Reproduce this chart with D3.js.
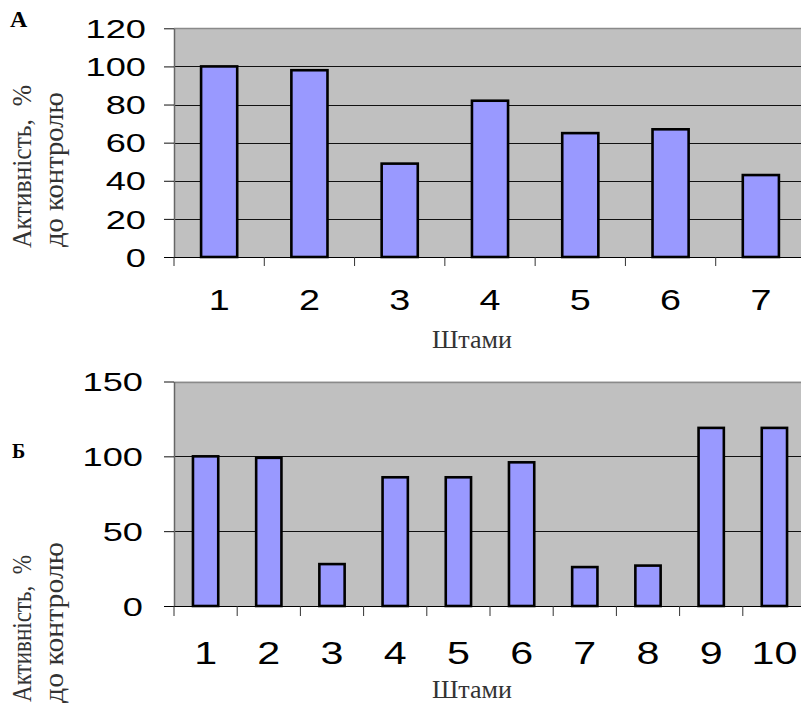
<!DOCTYPE html>
<html>
<head>
<meta charset="utf-8">
<script src="https://cdn.jsdelivr.net/npm/d3@7"></script>
<style>
  html, body { margin: 0; padding: 0; background: #fff; }
  svg { display: block; }
</style>
</head>
<body>
<svg id="chart" width="801" height="705"></svg>
<script>
// ---- Data ----
const categoriesA = ["1", "2", "3", "4", "5", "6", "7"];
const valuesA = [100, 98, 49, 82, 65, 67, 43];
const yTicksA = [0, 20, 40, 60, 80, 100, 120];

const categoriesB = ["1", "2", "3", "4", "5", "6", "7", "8", "9", "10"];
const valuesB = [100, 99, 28, 86, 86, 96, 26, 27, 119, 119];
const yTicksB = [0, 50, 100, 150];

const panelLabels = ["А", "Б"];
const yTitleLine1 = "Активність,  %";
const yTitleLine2 = "до контролю";
const xTitle = "Штами";

// ---- Drawing ----
const svg = d3.select("#chart");
const SANS = "Liberation Sans, Arial, sans-serif";
const SERIF = "Liberation Serif, Times New Roman, serif";

function panel(cfg) {
  const g = svg.append("g");
  const x = d3.scaleBand().domain(cfg.cats).range([cfg.left, cfg.right])
    .paddingInner(0.6).paddingOuter(0.3);
  const y = d3.scaleLinear().domain([0, cfg.yMax]).range([cfg.bottom, cfg.top]);

  // plot background
  g.append("rect")
    .attr("x", cfg.left).attr("y", y(cfg.yMax))
    .attr("width", cfg.right - cfg.left).attr("height", y(0) - y(cfg.yMax))
    .attr("fill", "#c0c0c0");

  // gridlines
  g.selectAll(".grid").data(cfg.ticks.filter(t => t > 0 && t < cfg.yMax)).join("line")
    .attr("x1", cfg.left).attr("x2", cfg.right)
    .attr("y1", d => Math.round(y(d)) + 0.5).attr("y2", d => Math.round(y(d)) + 0.5)
    .attr("stroke", "#111").attr("stroke-width", 1);

  // top border
  g.append("line")
    .attr("x1", cfg.left).attr("x2", cfg.right)
    .attr("y1", Math.round(y(cfg.yMax)) + 0.5).attr("y2", Math.round(y(cfg.yMax)) + 0.5)
    .attr("stroke", "#8a8a8a").attr("stroke-width", 1.5);

  // bars
  g.selectAll(".bar").data(cfg.vals).join("rect")
    .attr("x", (d, i) => x(cfg.cats[i]))
    .attr("y", d => y(d))
    .attr("width", x.bandwidth())
    .attr("height", d => y(0) - y(d))
    .attr("fill", "#9999ff")
    .attr("stroke", "#000").attr("stroke-width", 2.6);

  // y axis
  const yAxis = d3.axisLeft(y).tickValues(cfg.ticks).tickSize(10).tickSizeOuter(0);
  const ya = g.append("g").attr("transform", `translate(${cfg.left},0)`).call(yAxis);
  ya.select(".domain").attr("stroke", "#666").attr("stroke-width", 1.5);
  ya.selectAll(".tick line").attr("stroke", "#111");
  ya.selectAll(".tick text")
    .attr("x", null).attr("dy", "0.36em")
    .attr("text-anchor", "end")
    .attr("transform", `translate(${-cfg.yLabelGap},0) scale(${cfg.ySx},1)`)
    .attr("font-family", SANS).attr("font-size", cfg.yFont).attr("fill", "#000");

  // x axis line (zero line) extended to tick
  g.append("line")
    .attr("x1", cfg.left - 10).attr("x2", cfg.right)
    .attr("y1", Math.round(y(0)) + 0.5).attr("y2", Math.round(y(0)) + 0.5)
    .attr("stroke", "#000").attr("stroke-width", 1.2);

  // category boundary ticks
  const bounds = d3.range(cfg.cats.length + 1).map(i => cfg.left + i * x.step());
  g.selectAll(".xt").data(bounds).join("line")
    .attr("x1", d => d).attr("x2", d => d)
    .attr("y1", y(0)).attr("y2", y(0) + cfg.xTick)
    .attr("stroke", "#333").attr("stroke-width", 1);

  // x labels via axis (no tick marks)
  const xAxis = d3.axisBottom(x).tickSize(0);
  const xa = g.append("g").attr("transform", `translate(0,${cfg.xLabelBase})`).call(xAxis);
  xa.select(".domain").remove();
  xa.selectAll(".tick text")
    .attr("y", 0).attr("dy", 0)
    .attr("transform", `scale(${cfg.xSx},1)`)
    .attr("font-family", SANS).attr("font-size", cfg.xFont).attr("fill", "#000");
  xa.selectAll(".tick").attr("transform", d => `translate(${x(d) + x.bandwidth() / 2},0)`);

  // x title
  g.append("text")
    .attr("x", cfg.xTitleX).attr("y", cfg.xTitleBase)
    .attr("text-anchor", "middle")
    .attr("font-family", SERIF).attr("font-size", 25)
    .attr("textLength", 80).attr("lengthAdjust", "spacingAndGlyphs")
    .attr("fill", "#333")
    .text(xTitle);

  // y titles (rotated)
  [[yTitleLine1, 31, cfg.t1c, cfg.t1len], [yTitleLine2, 63, cfg.t2c, cfg.t2len]].forEach(([txt, bx, cy, len]) => {
    g.append("text")
      .attr("transform", `translate(${bx},${cy}) rotate(-90)`)
      .attr("text-anchor", "middle")
      .style("white-space", "pre")
      .attr("font-family", SERIF).attr("font-size", 27)
      .attr("textLength", len).attr("lengthAdjust", "spacingAndGlyphs")
      .attr("fill", "#333")
      .text(txt);
  });

  // panel label
  g.append("text")
    .attr("x", cfg.pLabX).attr("y", cfg.pLabY)
    .attr("font-family", SERIF).attr("font-weight", "bold")
    .attr("font-size", cfg.pLabFont).attr("fill", "#000")
    .text(cfg.pLab);
}

panel({
  cats: categoriesA, vals: valuesA, ticks: yTicksA, yMax: 120,
  left: 174, right: 806, top: 28.3, bottom: 257,
  yLabelGap: 28, ySx: 1.42, yFont: 25.5,
  xTick: 9, xLabelBase: 310, xSx: 1.3, xFont: 29,
  xTitleX: 472, xTitleBase: 348,
  t1c: 166.5, t1len: 163, t2c: 169.5, t2len: 155,
  pLab: panelLabels[0], pLabX: 10, pLabY: 27, pLabFont: 24
});

panel({
  cats: categoriesB, vals: valuesB, ticks: yTicksB, yMax: 150,
  left: 174, right: 806, top: 381.5, bottom: 606,
  yLabelGap: 31, ySx: 1.42, yFont: 25.5,
  xTick: 10, xLabelBase: 664, xSx: 1.33, xFont: 31,
  xTitleX: 472, xTitleBase: 698,
  t1c: 628.5, t1len: 147, t2c: 622.5, t2len: 161,
  pLab: panelLabels[1], pLabX: 12, pLabY: 458, pLabFont: 20
});
</script>
</body>
</html>
